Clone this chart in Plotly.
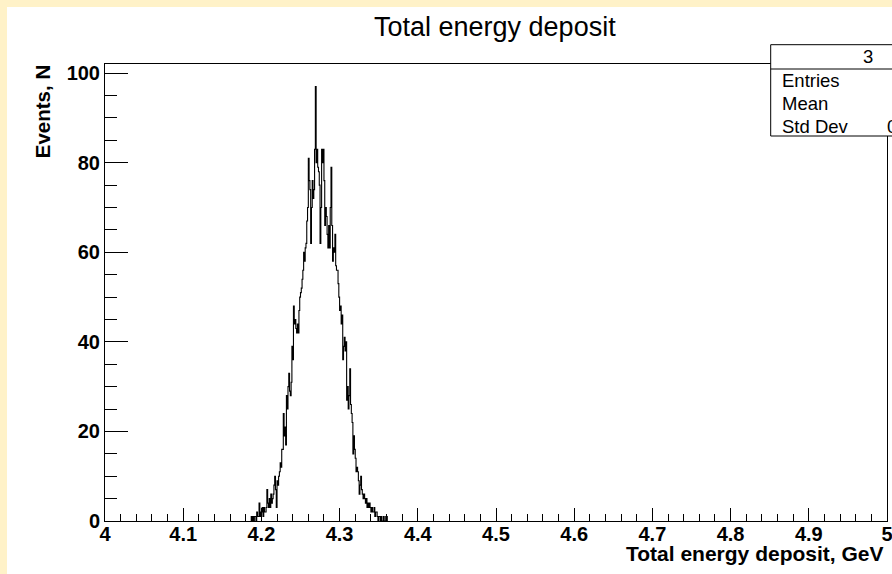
import plotly.graph_objects as go

# ---------------- data ----------------
bin_start = 4.187
bin_width = 0.001
counts = [
    1, 0, 1, 0, 1, 1, 0, 2, 1, 1,
    4, 1, 2, 2, 3, 1, 3, 2, 2, 3,
    7, 4, 3, 5, 3, 6, 4, 5, 6, 8,
    10, 7, 3, 9, 8, 10, 11, 13, 12, 16,
    16, 24, 19, 21, 17, 28, 25, 30, 33, 29,
    28, 31, 39, 36, 48, 44, 45, 43, 42, 44,
    42, 47, 50, 51, 52, 54, 56, 60, 58, 61,
    62, 67, 70, 81, 76, 74, 62, 70, 76, 72,
    74, 83, 97, 80, 83, 79, 78, 75, 62, 70,
    83, 80, 83, 76, 66, 70, 68, 64, 61, 66,
    61, 70, 79, 66, 58, 61, 60, 64, 57, 56,
    56, 53, 50, 47, 48, 44, 46, 36, 39, 41,
    38, 40, 27, 30, 25, 28, 34, 26, 24, 22,
    15, 19, 16, 14, 11, 12, 11, 9, 6, 8,
    10, 7, 6, 5, 6, 5, 4, 5, 3, 4,
    3, 4, 3, 2, 3, 2, 2, 3, 1, 2,
    2, 1, 0, 1, 1, 0, 1, 0, 0, 1,
    0, 0, 1, 1,
]
x_range = [4.0, 5.0]
y_range = [0, 102.05]
x_tickvals = [4.0, 4.1, 4.2, 4.3, 4.4, 4.5, 4.6, 4.7, 4.8, 4.9, 5.0]
x_ticktext = ["4", "4.1", "4.2", "4.3", "4.4", "4.5", "4.6", "4.7", "4.8", "4.9", "5"]
y_tickvals = [0, 20, 40, 60, 80, 100]
y_ticktext = ["0", "20", "40", "60", "80", "100"]

title_text = "Total energy deposit"
x_title = "Total energy deposit, GeV"
y_title = "Events, N"
stats_name = "3"
stats_labels = ["Entries", "Mean", "Std Dev"]
stats_stddev = "0.02453"

# ---------------- geometry ----------------
W, H = 892, 574
L, R, T, B = 105, 5, 64, 53
PW = W - L - R
PH = H - T - B


def px(xp):
    return (xp - L) / PW


def py(yp):
    return (H - B - yp) / PH


# step outline
xs = [bin_start]
ys = [0]
for i, c in enumerate(counts):
    xs.append(bin_start + i * bin_width)
    ys.append(c)
xs.append(bin_start + len(counts) * bin_width)
ys.append(0)

FONT = "Liberation Sans, Arial, Helvetica, sans-serif"

fig = go.Figure()
fig.add_trace(go.Scatter(
    x=xs, y=ys, mode="lines",
    line=dict(shape="hv", color="black", width=1.1),
    hoverinfo="skip", showlegend=False,
))

axis_common = dict(
    showline=True, linecolor="black", linewidth=1, mirror=True,
    showgrid=False, zeroline=False, ticks="inside", tickcolor="black",
    tickwidth=1, tickfont=dict(family=FONT, size=20, color="black", weight="bold"),
    tickmode="array", ticklabeloverflow="allow", automargin=False,
)

fig.update_layout(
    width=W, height=H,
    margin=dict(l=L, r=R, t=T, b=B, pad=0, autoexpand=False),
    paper_bgcolor="#FFF2C8",
    plot_bgcolor="white",
    xaxis=dict(range=x_range, tickvals=x_tickvals, ticktext=x_ticktext, ticklen=13,
               minor=dict(dtick=0.02, tick0=4.0, ticks="inside", ticklen=7,
                          tickcolor="black", tickwidth=1),
               ticklabelstandoff=-5, **axis_common),
    yaxis=dict(range=y_range, tickvals=y_tickvals, ticktext=y_ticktext, ticklen=23,
               minor=dict(dtick=5, tick0=0, ticks="inside", ticklen=12,
                          tickcolor="black", tickwidth=1),
               ticklabelstandoff=0, **axis_common),
    shapes=[
        dict(type="rect", xref="paper", yref="paper", layer="below",
             x0=px(7), x1=px(1000), y0=py(800), y1=py(7),
             fillcolor="white", line=dict(width=0)),
        dict(type="rect", xref="paper", yref="paper", layer="above",
             x0=px(770.7), x1=px(965), y0=py(136), y1=py(44.7),
             fillcolor="white", line=dict(color="black", width=1)),
        dict(type="line", xref="paper", yref="paper", layer="above",
             x0=px(770.7), x1=px(965), y0=py(69), y1=py(69),
             line=dict(color="black", width=1)),
    ],
)

ann = []
ann.append(dict(text=title_text, xref="paper", yref="paper", x=px(495), y=py(26.7),
                xanchor="center", yanchor="middle", showarrow=False,
                font=dict(family=FONT, size=27, color="black")))
ann.append(dict(text=x_title, xref="paper", yref="paper", x=px(886), y=py(553),
                xanchor="right", yanchor="middle", showarrow=False,
                font=dict(family=FONT, size=21, color="black", weight="bold")))
ann.append(dict(text=y_title, xref="paper", yref="paper", x=px(42.5), y=py(111.7),
                xanchor="center", yanchor="middle", showarrow=False, textangle=-90,
                font=dict(family=FONT, size=20.5, color="black", weight="bold")))
ann.append(dict(text=stats_name, xref="paper", yref="paper", x=px(867.7), y=py(56.7),
                xanchor="center", yanchor="middle", showarrow=False,
                font=dict(family=FONT, size=18.5, color="black")))
row_y = [80, 103.5, 126.5]
for lab, yy in zip(stats_labels, row_y):
    ann.append(dict(text=lab, xref="paper", yref="paper", x=px(780), y=py(yy),
                    xanchor="left", yanchor="middle", showarrow=False,
                    font=dict(family=FONT, size=18.5, color="black")))
# only the first digit of the Std Dev value is visible in the window
ann.append(dict(text=stats_stddev, xref="paper", yref="paper", x=px(885), y=py(row_y[2]),
                xanchor="left", yanchor="middle", showarrow=False,
                font=dict(family=FONT, size=18.5, color="black")))
fig.update_layout(annotations=ann)

fig.write_html("out.html")
